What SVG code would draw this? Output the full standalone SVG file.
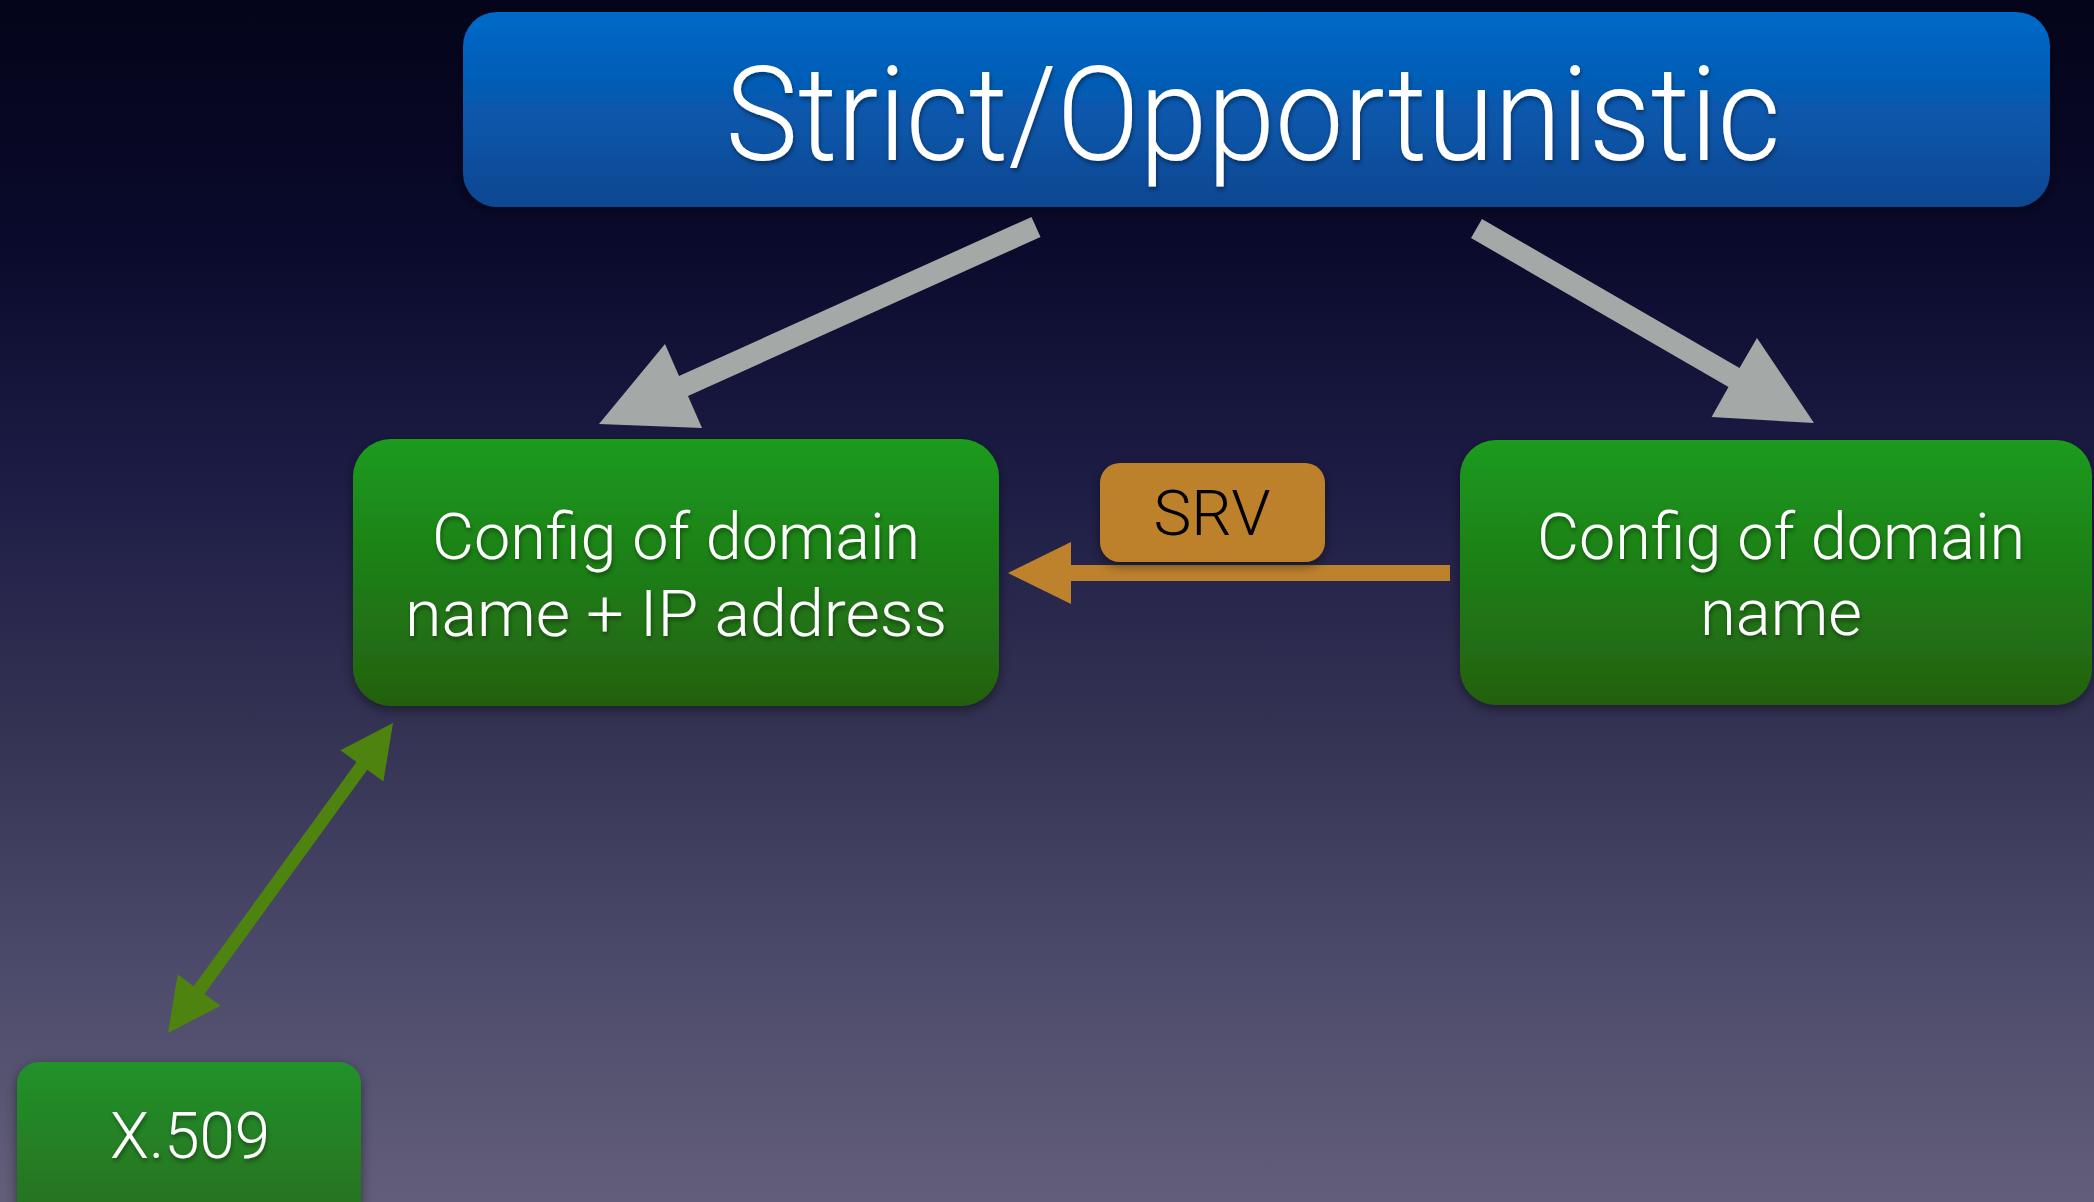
<svg xmlns="http://www.w3.org/2000/svg" width="2094" height="1202" viewBox="0 0 2094 1202">
<defs>
<linearGradient id="bg" x1="0" y1="0" x2="0" y2="1">
<stop offset="0" stop-color="#04041a"/>
<stop offset="0.2" stop-color="#0a0a2c"/>
<stop offset="0.4" stop-color="#1d1c45"/>
<stop offset="0.6" stop-color="#343253"/>
<stop offset="0.8" stop-color="#4c4a6a"/>
<stop offset="1" stop-color="#625e7a"/>
</linearGradient>
<linearGradient id="blue" x1="0" y1="0" x2="0" y2="1">
<stop offset="0" stop-color="#0369c9"/>
<stop offset="1" stop-color="#0b4791"/>
</linearGradient>
<linearGradient id="green" x1="0" y1="0" x2="0" y2="1">
<stop offset="0" stop-color="#1a9b1e"/>
<stop offset="1" stop-color="#23600f"/>
</linearGradient>
<linearGradient id="green2" x1="0" y1="0" x2="0" y2="1">
<stop offset="0" stop-color="#21922a"/>
<stop offset="1" stop-color="#2a6a1e"/>
</linearGradient>
<filter id="sh" x="-10%" y="-10%" width="120%" height="130%">
<feDropShadow dx="0" dy="4" stdDeviation="6" flood-color="#000" flood-opacity="0.45"/>
</filter>
<filter id="tsh" x="-5%" y="-20%" width="110%" height="140%">
<feDropShadow dx="1" dy="3" stdDeviation="2" flood-color="#000" flood-opacity="0.4"/>
</filter>
</defs>
<style>
.lbl{font-family:Roboto,"Liberation Sans",Arial,sans-serif;font-weight:300;fill:#ffffff;text-anchor:middle;filter:url(#tsh)}
.gray{fill:#a4a9a7}
</style>
<rect x="0" y="0" width="2094" height="1202" fill="url(#bg)"/>

<g id="connectors">
<polygon class="gray" points="1040.5,237 688,396 702,428 599,424 665,344 679,376 1031.5,217"/>
<polygon class="gray" points="1482,219 1739.5,368 1757,338 1814,423 1711.6,417 1728.5,387 1471,238"/>
<polygon fill="#be822d" points="1450,565 1071,565 1071,542 1008,573 1071,604 1071,581 1450,581"/>
<polygon fill="#4e830f" points="393,723 383.4,781.5 367.3,769.8 204.5,994 220.6,1005.7 168,1033 177.7,974.5 193.7,986.2 356.5,762 340.5,750.3"/>
</g>

<g id="title">
<rect x="463" y="12" width="1587" height="195" rx="34" fill="url(#blue)" filter="url(#sh)"/>
<text class="lbl" x="1253" y="160" font-size="132" textLength="1055" lengthAdjust="spacingAndGlyphs">Strict/Opportunistic</text>
</g>

<g id="node-ip">
<rect x="353" y="439" width="646" height="267" rx="38" fill="url(#green)" filter="url(#sh)"/>
<text class="lbl" x="676" y="559" font-size="65" textLength="488" lengthAdjust="spacingAndGlyphs">Config of domain</text>
<text class="lbl" x="676" y="636" font-size="65" textLength="542" lengthAdjust="spacingAndGlyphs">name + IP address</text>
</g>

<g id="node-domain">
<rect x="1460" y="440" width="632" height="265" rx="36" fill="url(#green)" filter="url(#sh)"/>
<text class="lbl" x="1781" y="559" font-size="65" textLength="488" lengthAdjust="spacingAndGlyphs">Config of domain</text>
<text class="lbl" x="1781" y="635" font-size="65">name</text>
</g>

<g id="srv">
<rect x="1100" y="463" width="225" height="99" rx="20" fill="#bc8129" filter="url(#sh)"/>
<text x="1212" y="535" font-size="63" font-family="Roboto,'Liberation Sans',Arial,sans-serif" font-weight="300" fill="#000" text-anchor="middle" textLength="117" lengthAdjust="spacingAndGlyphs">SRV</text>
</g>

<g id="node-x509">
<rect x="17" y="1062" width="344" height="180" rx="22" fill="url(#green2)" filter="url(#sh)"/>
<text class="lbl" x="190" y="1158" font-size="64" fill="#eeeeee" textLength="160" lengthAdjust="spacingAndGlyphs">X.509</text>
</g>
</svg>
